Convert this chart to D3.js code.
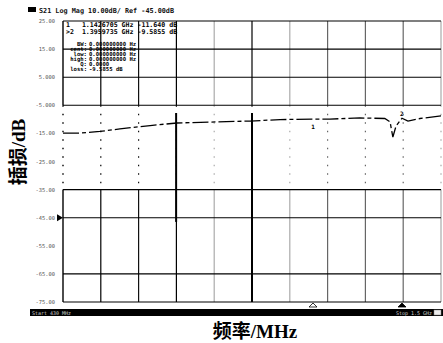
<!DOCTYPE html>
<html>
<head>
<meta charset="utf-8">
<script src="https://cdn.jsdelivr.net/npm/d3@7"></script>
<style>
  html, body { margin: 0; padding: 0; background: #fff; }
  svg { display: block; }
</style>
</head>
<body>
<div id="chart"></div>
<script>
// S21 trace (GHz, dB)
const freqGHz = [0.431, 0.479, 0.536, 0.593, 0.679, 0.755, 0.869, 0.963, 1.049, 1.143,
  1.191, 1.276, 1.347, 1.362, 1.370, 1.379, 1.396, 1.413, 1.447, 1.507]
const s21dB = [-14.9, -14.9, -14.3, -13.4, -12.2, -11.3, -10.9, -10.6, -10.1, -9.9,
  -9.9, -9.5, -9.7, -10.9, -16.3, -12.4, -9.59, -10.6, -9.7, -8.8]

const yTicks = [25, 15, 5, -5, -15, -25, -35, -45, -55, -65, -75]
const yTickLabels = ['25.00', '15.00', '5.000', '-5.000', '-15.00', '-25.00', '-35.00', '-45.00', '-55.00', '-65.00', '-75.00']
const solidRows = [25, 15, 5, -5, -35, -45, -65, -75]
const refLevel = -45

const markerNames = ['1', '2']
const markerFreq = [1.143, 1.396]
const markerDb = [-11.64, -9.5855]
const markerRows = ['1   1.1426705 GHz -11.640 dB', '>2  1.3959735 GHz -9.5855 dB']
const statLabels = ['BW:', 'cent:', 'low:', 'high:', 'Q:', 'loss:']
const statValues = ['0.000000000 Hz', '0.000000000 Hz', '0.000000000 Hz', '0.000000000 Hz', '0.0000', '-9.5855 dB']

const startGHz = 0.431
const stopGHz = 1.507
const xDivs = 10

const W = 443, H = 343
const plot = { left: 63, right: 441, top: 21, bottom: 302 }

const svg = d3.select('#chart').append('svg').attr('width', W).attr('height', H)

const x = d3.scaleLinear().domain([startGHz, stopGHz]).range([plot.left, plot.right])
const y = d3.scaleLinear().domain([-75, 25]).range([plot.bottom, plot.top])

const mono = '"DejaVu Sans Mono", monospace'

// header
svg.append('rect').attr('x', 28).attr('y', 7).attr('width', 8).attr('height', 5).attr('fill', '#000')
svg.append('text').attr('x', 39).attr('y', 12.5)
  .attr('font-family', mono).attr('font-size', '6.8px').attr('font-weight', 'bold').attr('fill', '#111')
  .text('S21 Log Mag 10.00dB/ Ref -45.00dB')

// vertical grid
const xGrid = d3.range(xDivs + 1).map(i => startGHz + i * (stopGHz - startGHz) / xDivs)
const vColor = ['#000', '#000', '#111', '#000', '#aaa', '#000', '#aaa', '#666', '#666', '#666', '#aaa']
const gridG = svg.append('g')
xGrid.forEach((f, i) => {
  const segs = [[25, -5, null], [-5, -35, '1.5,7'], [-35, -75, null]]
  segs.forEach(([a, b, dash]) => {
    gridG.append('line')
      .attr('x1', x(f)).attr('x2', x(f)).attr('y1', y(a)).attr('y2', y(b))
      .attr('stroke', vColor[i]).attr('stroke-width', i === 0 ? 1.4 : 1.2)
      .attr('stroke-dasharray', dash)
  })
})

// horizontal grid
gridG.selectAll('line.h').data(solidRows).enter().append('line')
  .attr('class', 'h')
  .attr('x1', plot.left).attr('x2', plot.right)
  .attr('y1', d => y(d)).attr('y2', d => y(d))
  .attr('stroke', '#000').attr('stroke-width', 1.1)

// thick vertical marker bars
svg.append('line').attr('x1', x(0.753)).attr('x2', x(0.753)).attr('y1', 113).attr('y2', y(-46.5))
  .attr('stroke', '#000').attr('stroke-width', 2)
svg.append('line').attr('x1', x(0.969)).attr('x2', x(0.969)).attr('y1', 113).attr('y2', plot.bottom)
  .attr('stroke', '#000').attr('stroke-width', 2)

// y tick labels
svg.append('g').selectAll('text').data(yTicks).enter().append('text')
  .attr('x', 55).attr('y', d => y(d) + 2)
  .attr('text-anchor', 'end')
  .attr('font-family', mono).attr('font-size', '5.4px').attr('fill', '#555')
  .text((d, i) => yTickLabels[i])

// reference arrow
svg.append('path')
  .attr('d', `M57,${y(refLevel) - 3.5}L63,${y(refLevel)}L57,${y(refLevel) + 3.5}Z`)
  .attr('fill', '#000')

// trace
const line = d3.line().x((d, i) => x(freqGHz[i])).y(d => y(d))
svg.append('path').datum(s21dB)
  .attr('d', line)
  .attr('fill', 'none').attr('stroke', '#000').attr('stroke-width', 1.3)
  .attr('stroke-dasharray', '16,3,4,3')

// marker labels on trace
markerNames.forEach((m, i) => {
  svg.append('text').attr('x', x(markerFreq[i]) - 2).attr('y', y(markerDb[i]) + (i === 0 ? 5 : -2))
    .attr('font-family', mono).attr('font-size', '6px').attr('font-weight', 'bold').text(m)
})

// readout
const ro = svg.append('g').attr('font-family', mono).attr('font-weight', 'bold').attr('fill', '#000')
markerRows.forEach((t, i) => {
  ro.append('text').attr('x', 66).attr('y', 27 + i * 6.5).attr('font-size', '6.6px')
    .attr('xml:space', 'preserve').style('white-space', 'pre').text(t)
})
statLabels.forEach((t, i) => {
  ro.append('text').attr('x', 87).attr('y', 46 + i * 5).attr('font-size', '5.6px')
    .attr('text-anchor', 'end').text(t)
  ro.append('text').attr('x', 89).attr('y', 46 + i * 5).attr('font-size', '5.6px')
    .text(statValues[i])
})

// bottom marker triangles
markerFreq.forEach((f, i) => {
  const cx = i === 0 ? 313 : x(f)
  svg.append('path')
    .attr('d', `M${cx - 4},307L${cx},303L${cx + 4},307Z`)
    .attr('fill', i === 0 ? '#fff' : '#000').attr('stroke', '#000').attr('stroke-width', 0.8)
})

// status bar
svg.append('rect').attr('x', 30).attr('y', 309).attr('width', 413).attr('height', 7).attr('fill', '#000')
svg.append('text').attr('x', 32).attr('y', 315).attr('font-family', mono).attr('font-size', '5px')
  .attr('fill', '#ccc').text('Start 430 MHz')
svg.append('text').attr('x', 432).attr('y', 315).attr('text-anchor', 'end').attr('font-family', mono)
  .attr('font-size', '5px').attr('fill', '#ccc').text('Stop 1.5 GHz')
svg.append('rect').attr('x', 434).attr('y', 310).attr('width', 7).attr('height', 5)
  .attr('fill', '#eee').attr('stroke', '#888').attr('stroke-width', 0.5)

// axis titles
const titleFont = '"Liberation Serif", "Noto Sans CJK SC", serif'
svg.append('text').attr('x', 255).attr('y', 338).attr('text-anchor', 'middle')
  .attr('font-family', titleFont).attr('font-size', '19px').attr('font-weight', 'bold')
  .text('频率/MHz')
svg.append('text').attr('transform', 'translate(25,152) rotate(-90)').attr('text-anchor', 'middle')
  .attr('font-family', titleFont).attr('font-size', '19px').attr('font-weight', 'bold')
  .text('插损/dB')
</script>
</body>
</html>
